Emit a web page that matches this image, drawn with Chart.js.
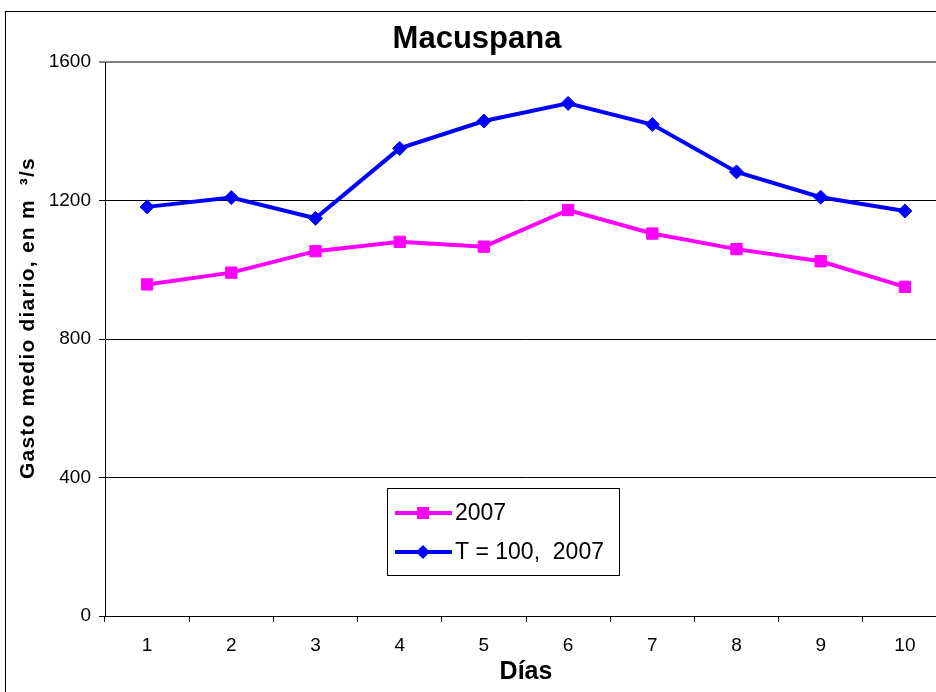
<!DOCTYPE html>
<html>
<head>
<meta charset="utf-8">
<script src="https://cdn.jsdelivr.net/npm/chart.js@4.4.1/dist/chart.umd.min.js"></script>
<style>
  html, body { margin: 0; padding: 0; background: #fff; overflow: hidden; }
  #wrap { width: 956px; height: 692px; }
</style>
</head>
<body>
<div id="wrap"><canvas id="myChart" width="956" height="692"></canvas></div>
<script>
const dias = ['1', '2', '3', '4', '5', '6', '7', '8', '9', '10'];
const gasto2007 = [958, 992, 1054, 1081, 1067, 1173, 1105, 1060, 1025, 951];
const gastoT100 = [1182, 1209, 1149, 1351, 1430, 1481, 1420, 1283, 1210, 1170];
const yTicks = [0, 400, 800, 1200, 1600];

const FONT = 'Arial, "Liberation Sans", sans-serif';

// marco exterior del grafico
const marco = {
  id: 'marco',
  beforeDraw(chart) {
    const ctx = chart.ctx;
    ctx.save();
    ctx.fillStyle = '#fff';
    ctx.fillRect(0, 0, chart.width, chart.height);
    ctx.strokeStyle = '#000';
    ctx.lineWidth = 1;
    ctx.strokeRect(5.5, 11.5, 2000, 2000);
    ctx.restore();
  }
};

// titulo del eje y (un poco desplazado hacia arriba, como en el original)
const tituloY = {
  id: 'tituloY',
  afterDraw(chart) {
    const ctx = chart.ctx;
    ctx.save();
    ctx.translate(28, 318);
    ctx.rotate(-Math.PI / 2);
    ctx.fillStyle = '#000';
    ctx.font = 'bold 21px ' + FONT;
    ctx.letterSpacing = '1.2px';
    ctx.textAlign = 'center';
    ctx.textBaseline = 'middle';
    ctx.fillText('Gasto medio diario, en m  ³/s', 0, 0);
    ctx.restore();
  }
};

// leyenda dentro del area de trazado
const leyenda = {
  id: 'leyenda',
  afterDraw(chart) {
    const ctx = chart.ctx;
    const x0 = 387, y0 = 488, w = 232, h = 87;
    ctx.save();
    ctx.fillStyle = '#fff';
    ctx.fillRect(x0, y0, w, h);
    ctx.strokeStyle = '#000';
    ctx.lineWidth = 1;
    ctx.strokeRect(x0 + 0.5, y0 + 0.5, w, h);
    chart.data.datasets.forEach((ds, i) => {
      const cy = y0 + 25 + i * 39;
      ctx.strokeStyle = ds.borderColor;
      ctx.lineWidth = 4;
      ctx.beginPath();
      ctx.moveTo(395, cy);
      ctx.lineTo(452, cy);
      ctx.stroke();
      ctx.fillStyle = ds.borderColor;
      ctx.beginPath();
      if (ds.pointStyle === 'rect') {
        ctx.rect(423 - 6, cy - 6, 12, 12);
      } else {
        ctx.moveTo(423 - 7, cy);
        ctx.lineTo(423, cy - 7);
        ctx.lineTo(423 + 7, cy);
        ctx.lineTo(423, cy + 7);
        ctx.closePath();
      }
      ctx.fill();
      ctx.fillStyle = '#000';
      ctx.font = '23px ' + FONT;
      ctx.textBaseline = 'middle';
      ctx.textAlign = 'left';
      ctx.fillText(ds.label, 455, cy + 1);
    });
    ctx.restore();
  }
};

const data = {
  labels: dias,
  datasets: [
    {
      label: '2007',
      data: gasto2007,
      borderColor: '#ff00ff',
      backgroundColor: '#ff00ff',
      borderWidth: 4,
      pointStyle: 'rect',
      pointRadius: 8,
      pointBorderWidth: 1,
      tension: 0
    },
    {
      label: 'T = 100,  2007',
      data: gastoT100,
      borderColor: '#0000ff',
      backgroundColor: '#0000ff',
      borderWidth: 4,
      pointStyle: 'rectRot',
      pointRadius: 7,
      pointBorderWidth: 1,
      tension: 0
    }
  ]
};

const config = {
  type: 'line',
  data: data,
  options: {
    responsive: false,
    animation: false,
    layout: { padding: { left: 0, right: 2, top: 0, bottom: 0 } },
    plugins: {
      legend: { display: false },
      tooltip: { enabled: false },
      title: {
        display: true,
        text: 'Macuspana',
        color: '#000',
        font: { family: FONT, size: 31, weight: 'bold' },
        padding: { top: 21, bottom: 4 }
      }
    },
    scales: {
      x: {
        offset: true,
        grid: {
          offset: true,
          drawOnChartArea: false,
          drawTicks: true,
          tickLength: 6,
          color: '#000'
        },
        border: { color: '#000', width: 1 },
        ticks: {
          color: '#000',
          font: { family: FONT, size: 19 },
          padding: 12,
          maxRotation: 0
        },
        title: {
          display: true,
          text: 'Días',
          color: '#000',
          font: { family: FONT, size: 25, weight: 'bold' },
          padding: { top: 0, bottom: 5 }
        },
        afterFit(scale) { scale.height = 76; }
      },
      y: {
        min: 0,
        max: 1600,
        afterBuildTicks(scale) { scale.ticks = yTicks.map(v => ({ value: v })); },
        grid: {
          color: ctx => (ctx.tick && ctx.tick.value === 1600 ? '#808080' : '#000'),
          lineWidth: ctx => (ctx.tick && ctx.tick.value === 1600 ? 2 : 1),
          tickLength: 6
        },
        border: { color: '#000', width: 1 },
        ticks: {
          color: '#000',
          font: { family: FONT, size: 19 },
          padding: 8,
          callback: v => String(v)
        },
        afterFit(scale) { scale.width = 105; }
      }
    }
  },
  plugins: [marco, tituloY, leyenda]
};

const myChart = new Chart(document.getElementById('myChart'), config);
</script>
</body>
</html>
